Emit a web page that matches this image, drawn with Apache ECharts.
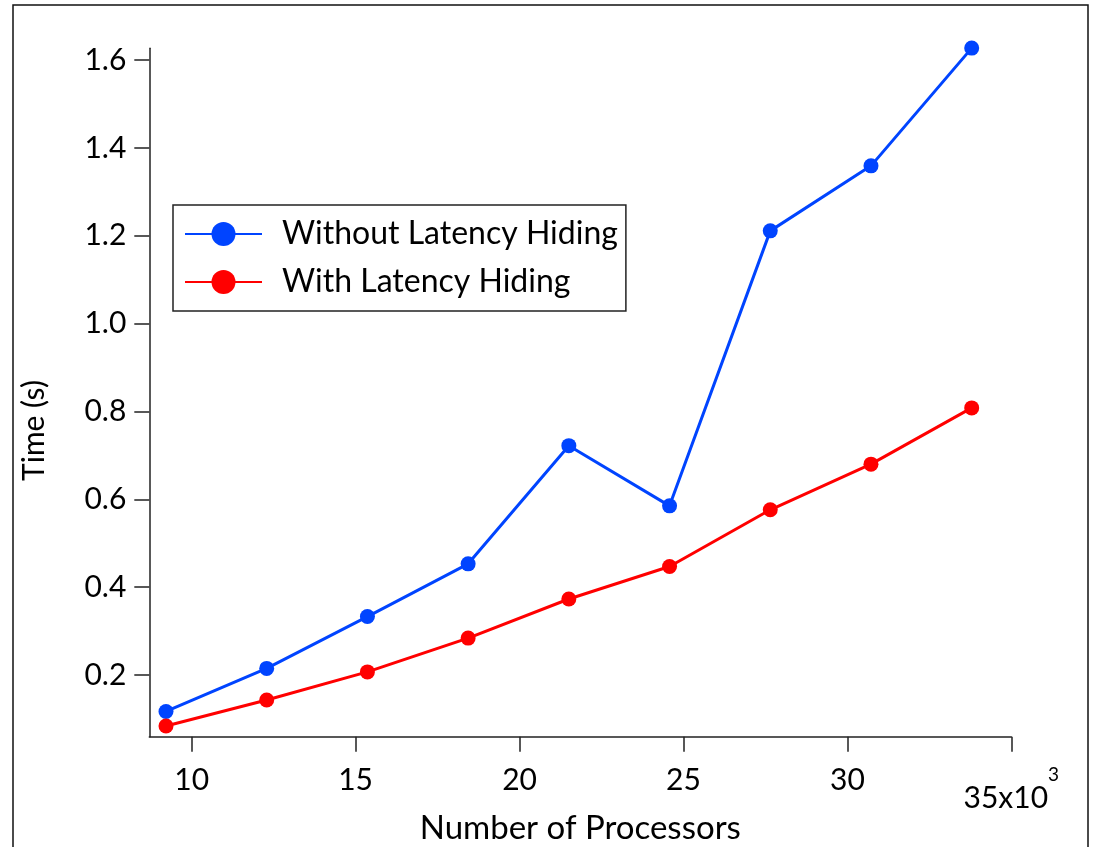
<!DOCTYPE html>
<html>
<head>
<meta charset="utf-8">
<script src="https://cdn.jsdelivr.net/npm/echarts@6/dist/echarts.min.js"></script>
<style>
  html, body { margin: 0; padding: 0; background: #fff; }
  #chart { width: 1098px; height: 847px; }
</style>
</head>
<body>
<div id="chart"></div>
<script>
// Processor counts (multiples of 3072)
const processors = [9216, 12288, 15360, 18432, 21504, 24576, 27648, 30720, 33792];
// Run time in seconds
const timeWithoutHiding = [0.117, 0.215, 0.333, 0.453, 0.722, 0.585, 1.211, 1.359, 1.627];
const timeWithHiding = [0.084, 0.143, 0.207, 0.284, 0.373, 0.447, 0.576, 0.680, 0.808];
// Tick positions
const xTicks = [10000, 15000, 20000, 25000, 30000, 35000];
const yTicks = [0.2, 0.4, 0.6, 0.8, 1.0, 1.2, 1.4, 1.6];

const FONT = 'Lato';
const chart = echarts.init(document.getElementById('chart'), null, { renderer: 'canvas' });

const pairs = (xs, ys) => xs.map((x, i) => [x, ys[i]]);

chart.setOption({
  backgroundColor: '#ffffff',
  animation: false,
  textStyle: { fontFamily: FONT, color: '#000' },
  graphic: [{
    type: 'rect',
    shape: { x: 13, y: 5, width: 1075, height: 900 },
    style: { fill: 'none', stroke: '#111', lineWidth: 1.5 },
    silent: true,
    z: -1
  }],
  grid: {
    left: 149.3, right: 86.7, top: 48.3, bottom: 110.3,
    containLabel: false,
    outerBoundsMode: 'none'
  },
  legend: {
    left: 173, top: 205,
    orient: 'vertical',
    itemWidth: 77, itemHeight: 30, itemGap: 16,
    padding: [13, 8, 13, 11],
    borderColor: '#222', borderWidth: 1.5,
    backgroundColor: '#fff',
    textStyle: { fontFamily: FONT, fontSize: 32, color: '#000', padding: [0, 0, 0, 15] },
    data: ['Without Latency Hiding', 'With Latency Hiding']
  },
  xAxis: {
    type: 'value',
    min: 8707, max: 35000,
    name: 'Number of Processors',
    nameLocation: 'middle', nameGap: 75,
    nameMoveOverlap: false,
    nameTextStyle: { fontFamily: FONT, fontSize: 33, color: '#000' },
    splitLine: { show: false },
    axisLine: { show: true, onZero: false, lineStyle: { color: '#222', width: 1.5 } },
    axisTick: { show: true, inside: false, length: 15, customValues: xTicks, lineStyle: { color: '#222', width: 1.5 } },
    axisLabel: {
      customValues: xTicks,
      margin: 29,
      fontFamily: FONT, fontSize: 30, color: '#000',
      formatter: v => v === 35000 ? '{b|35x10}{s|3}' : '{a|' + (v / 1000) + '}',
      rich: {
        a: { fontFamily: FONT, fontSize: 30, color: '#000' },
        b: { fontFamily: FONT, fontSize: 30, color: '#000', padding: [18, 0, 0, 0] },
        s: { fontFamily: FONT, fontSize: 19, color: '#000', verticalAlign: 'top' }
      }
    }
  },
  yAxis: {
    type: 'value',
    min: 0.0595, max: 1.6266,
    name: 'Time (s)',
    nameLocation: 'middle', nameGap: 100,
    nameMoveOverlap: false,
    nameTextStyle: { fontFamily: FONT, fontSize: 30, color: '#000', padding: [0, 76, 0, 0] },
    splitLine: { show: false },
    axisLine: { show: true, onZero: false, lineStyle: { color: '#222', width: 1.5 } },
    axisTick: { show: true, inside: false, length: 15, customValues: yTicks, lineStyle: { color: '#222', width: 1.5 } },
    axisLabel: {
      customValues: yTicks,
      margin: 23,
      fontFamily: FONT, fontSize: 30, color: '#000',
      formatter: v => v.toFixed(1)
    }
  },
  series: [
    {
      name: 'Without Latency Hiding',
      type: 'line',
      data: pairs(processors, timeWithoutHiding),
      symbol: 'circle', symbolSize: 15,
      lineStyle: { color: '#0044ff', width: 3 },
      itemStyle: { color: '#0044ff' },
      clip: false
    },
    {
      name: 'With Latency Hiding',
      type: 'line',
      data: pairs(processors, timeWithHiding),
      symbol: 'circle', symbolSize: 15,
      lineStyle: { color: '#ff0000', width: 3 },
      itemStyle: { color: '#ff0000' },
      clip: false
    }
  ]
});
</script>
</body>
</html>
